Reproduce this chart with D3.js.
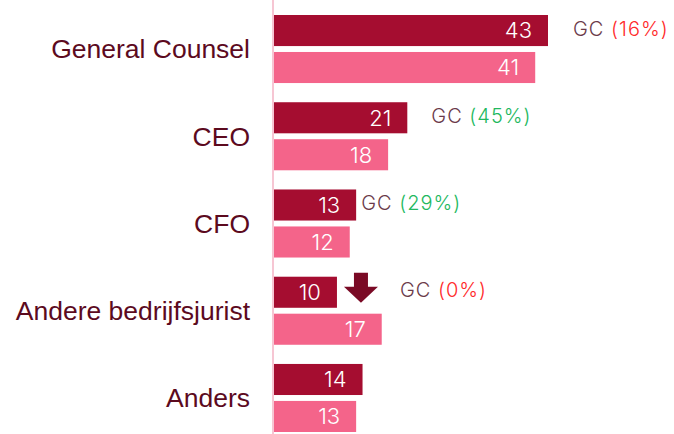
<!DOCTYPE html>
<html>
<head>
<meta charset="utf-8">
<script src="https://cdn.jsdelivr.net/npm/d3@7"></script>
<style>
  body { margin: 0; background: #fff; }
  .cat { font-family: "Liberation Sans", Arial, sans-serif; font-size: 26.5px; fill: #5c0a1e; }
  .val { font-family: Inter, "Open Sans", sans-serif; font-weight: 300; font-size: 22px; fill: #fff; }
  .note { font-family: Inter, "Open Sans", sans-serif; font-weight: 300; font-size: 20px; letter-spacing: 1px; }
</style>
</head>
<body>
<div id="chart"></div>
<script>
// data
const categories = ['General Counsel', 'CEO', 'CFO', 'Andere bedrijfsjurist', 'Anders']
const current = [43, 21, 13, 10, 14]
const previous = [41, 18, 12, 17, 13]
const noteLabel = ['GC', 'GC', 'GC', 'GC', null]
const notePct = [16, 45, 29, 0, null]
const noteUp = [false, true, true, false, null]
const noteArrow = [false, false, false, true, false]

// canvas
const width = 674,
  height = 434,
  axisX = 273

// hand placed note offsets (px right of the dark bar)
const noteOffset = [25, 24, 5, 63, 0]

let svg = d3.select('#chart')
  .append('svg')
  .attr('width', width)
  .attr('height', height)

const xScale = d3.scaleLinear()
  .domain([0, 43])
  .range([axisX, 548])

const yScale = d3.scaleBand()
  .domain(categories)
  .range([15, 432])
  .paddingInner(0.22)
  .paddingOuter(0)

const sub = d3.scaleBand()
  .domain(['current', 'previous'])
  .range([0, yScale.bandwidth()])
  .paddingInner(0.16)

const colors = { current: '#a50d30', previous: '#f4648a' }

const rows = categories.map((c, i) => ({
  cat: c, current: current[i], previous: previous[i],
  label: noteLabel[i], pct: notePct[i], up: noteUp[i], arrow: noteArrow[i], off: noteOffset[i]
}))

// axis line
svg.append('line')
  .attr('x1', axisX).attr('x2', axisX)
  .attr('y1', 0).attr('y2', height)
  .attr('stroke', '#f6c6d3')
  .attr('stroke-width', 2)

const g = svg.selectAll('g.row')
  .data(rows)
  .enter()
  .append('g')
  .attr('class', 'row')
  .attr('transform', d => 'translate(0,' + yScale(d.cat) + ')')

g.append('text')
  .attr('class', 'cat')
  .attr('x', 250)
  .attr('y', yScale.bandwidth() / 2)
  .attr('dy', '0.35em')
  .attr('text-anchor', 'end')
  .text(d => d.cat)

const keys = ['current', 'previous']
keys.forEach(k => {
  g.append('rect')
    .attr('x', axisX + 1)
    .attr('y', sub(k))
    .attr('width', d => xScale(d[k]) - axisX - 1)
    .attr('height', sub.bandwidth())
    .attr('fill', colors[k])

  g.append('text')
    .attr('class', 'val')
    .attr('x', d => xScale(d[k]) - 16)
    .attr('y', sub(k) + sub.bandwidth() / 2)
    .attr('dy', '0.36em')
    .attr('text-anchor', 'end')
    .text(d => d[k])
})

// notes
const notes = g.filter(d => d.label)
const nt = notes.append('text')
  .attr('class', 'note')
  .attr('x', d => xScale(d.current) + d.off)
  .attr('y', sub('current') + sub.bandwidth() / 2 - 2)
  .attr('dy', '0.35em')
nt.append('tspan').attr('fill', '#6b3a4a').text(d => d.label + ' ')
nt.append('tspan')
  .attr('fill', d => d.up ? '#22b85e' : '#ff2a2a')
  .text(d => '(' + d.pct + '%)')

// down arrow
g.filter(d => d.arrow)
  .append('path')
  .attr('transform', d => 'translate(' + (xScale(d.current) + 24) + ',' + (sub('current') - 4) + ')')
  .attr('d', 'M-7,0 H7 V14 H17 L0,30 L-17,14 H-7 Z')
  .attr('fill', '#7a0a25')
</script>
</body>
</html>
